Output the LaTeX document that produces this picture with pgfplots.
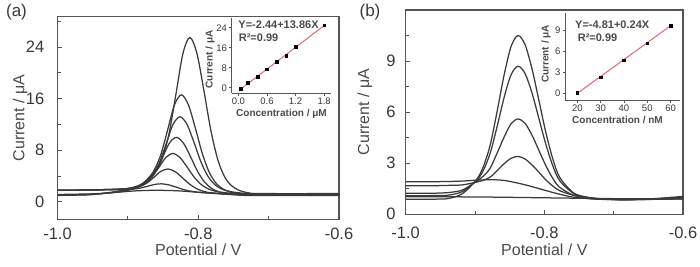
\documentclass[border=0pt]{standalone}
\usepackage{pgfplots}
\pgfplotsset{compat=1.18}
\usepackage{fontspec}
\setmainfont{Liberation Sans}
\definecolor{tk}{HTML}{383838}
\definecolor{lb}{HTML}{4A4A4A}
\definecolor{ax}{HTML}{555555}
\definecolor{cv}{HTML}{3A3A3A}
\definecolor{fit}{HTML}{E0707C}
\pgfplotsset{
 crv/.style={cv, solid, line width=1.25pt, smooth, mark=none},
 main/.style={scale only axis, anchor=south west,
  axis line style={ax, line width=1.1pt},
  tick style={ax, line width=1pt}, major tick length=4pt, minor tick length=3pt,
  tick align=inside, xtick pos=bottom, ytick pos=left,
  /pgf/number format/assume math mode=true,
  tick label style={font=\fontsize{16.5}{18}\selectfont, text=tk, inner sep=0pt},
  label style={font=\fontsize{16}{18}\selectfont, text=lb},
  xmin=-1, xmax=-0.6, xtick={-1,-0.8,-0.6}, xticklabels={-1.0,-0.8,-0.6},
  minor xtick={-0.9,-0.7},
  xlabel={Potential / V}, ylabel={Current / μA}},
 inset/.style={scale only axis, anchor=south west,
  axis x line*=bottom, axis y line*=left,
  axis line style={ax, line width=1pt},
  tick style={ax, line width=0.8pt}, major tick length=2.5pt, tick align=outside,
  /pgf/number format/assume math mode=true,
  tick label style={font=\fontsize{9.5}{10}\selectfont, text=tk, inner sep=0pt},
  label style={font=\fontsize{10}{11}\bfseries, text=lb},
  xlabel={Concentration / μM}, ylabel={Current / μA}}
}
\begin{document}
\begin{tikzpicture}[x=1pt,y=1pt]
\path[use as bounding box] (0,0) rectangle (700,-266);
% ---------------- panel (a)
\begin{axis}[main, at={(57.5pt,-219.3pt)}, width=281.5pt, height=202.6pt,
  ymin=-2.7, ymax=28.7, ytick={0,8,16,24}, minor ytick={4,12,20,28},
  every x tick label/.append style={anchor=center, yshift=-15pt},
  every y tick label/.append style={anchor=east, xshift=-13pt},
  xlabel style={at={(axis description cs:0.5,-0.152)}, anchor=center},
  ylabel style={at={(axis description cs:-0.133,0.5)}, anchor=center}]
\addplot[crv] coordinates {(-1.0,1.8) (-0.95,1.84) (-0.92,1.9) (-0.892,2.14) (-0.882,2.46) (-0.872,3.13) (-0.862,4.41) (-0.852,6.52) (-0.842,10.31) (-0.832,16.49) (-0.822,22.90) (-0.812,25.49) (-0.802,23.06) (-0.792,17.28) (-0.782,11.03) (-0.772,6.45) (-0.762,3.78) (-0.752,2.44) (-0.742,1.80) (-0.732,1.47) (-0.712,1.20) (-0.65,1.2) (-0.6,1.2)};
\addplot[crv] coordinates {(-1.0,1.05) (-0.96,1.12) (-0.93,1.35) (-0.904,1.70) (-0.894,2.0) (-0.884,2.45) (-0.874,3.34) (-0.864,4.66) (-0.854,7.05) (-0.844,10.94) (-0.834,14.98) (-0.824,16.60) (-0.814,15.05) (-0.804,11.38) (-0.794,7.41) (-0.784,4.50) (-0.774,2.80) (-0.764,1.94) (-0.754,1.52) (-0.744,1.30) (-0.724,1.10) (-0.65,1.08) (-0.6,1.05)};
\addplot[crv] coordinates {(-1.0,1.8) (-0.95,1.84) (-0.93,1.92) (-0.906,2.02) (-0.896,2.16) (-0.886,2.47) (-0.876,3.07) (-0.866,4.08) (-0.856,5.90) (-0.846,8.87) (-0.836,11.97) (-0.826,13.20) (-0.816,12.01) (-0.806,9.21) (-0.796,6.16) (-0.786,3.93) (-0.776,2.63) (-0.766,1.95) (-0.756,1.63) (-0.746,1.46) (-0.726,1.30) (-0.65,1.28) (-0.6,1.3)};
\addplot[crv] coordinates {(-1.0,1.1) (-0.96,1.15) (-0.935,1.3) (-0.911,1.6) (-0.901,1.85) (-0.891,2.12) (-0.881,2.58) (-0.871,3.33) (-0.861,4.66) (-0.851,6.84) (-0.841,9.11) (-0.831,10.00) (-0.821,9.10) (-0.811,7.01) (-0.801,4.73) (-0.791,3.07) (-0.781,2.08) (-0.771,1.57) (-0.761,1.30) (-0.751,1.16) (-0.731,1.00) (-0.65,1.0) (-0.6,1.0)};
\addplot[crv] coordinates {(-1.0,1.8) (-0.96,1.83) (-0.916,1.96) (-0.906,2.01) (-0.896,2.15) (-0.886,2.44) (-0.876,2.94) (-0.866,3.84) (-0.856,5.33) (-0.846,6.89) (-0.836,7.50) (-0.826,6.88) (-0.816,5.43) (-0.806,3.86) (-0.796,2.71) (-0.786,2.02) (-0.776,1.66) (-0.766,1.48) (-0.756,1.37) (-0.736,1.25) (-0.65,1.22) (-0.6,1.22)};
\addplot[crv] coordinates {(-1.0,1.0) (-0.96,1.08) (-0.945,1.2) (-0.923,1.5) (-0.913,1.7) (-0.903,1.85) (-0.893,2.05) (-0.883,2.36) (-0.873,2.91) (-0.863,3.81) (-0.853,4.74) (-0.843,5.10) (-0.833,4.70) (-0.823,3.79) (-0.813,2.81) (-0.803,2.09) (-0.793,1.65) (-0.783,1.42) (-0.773,1.29) (-0.763,1.21) (-0.743,1.10) (-0.65,1.1) (-0.6,1.1)};
\addplot[crv] coordinates {(-1.0,1.8) (-0.96,1.84) (-0.932,1.91) (-0.922,1.89) (-0.912,1.89) (-0.902,1.91) (-0.892,1.98) (-0.882,2.15) (-0.872,2.42) (-0.862,2.71) (-0.852,2.80) (-0.842,2.64) (-0.832,2.31) (-0.822,1.95) (-0.812,1.68) (-0.802,1.51) (-0.792,1.41) (-0.782,1.34) (-0.772,1.29) (-0.752,1.20) (-0.65,1.18) (-0.6,1.18)};
\addplot[crv] coordinates {(-1.0,1.15) (-0.95,1.25) (-0.92,1.45) (-0.89,1.7) (-0.86,1.8) (-0.83,1.72) (-0.8,1.5) (-0.77,1.33) (-0.74,1.22) (-0.7,1.15) (-0.6,1.1)};
\end{axis}
% inset (a)
\begin{axis}[inset, at={(231.7pt,-93.3pt)}, width=99.6pt, height=75.5pt,
  xmin=-0.14, xmax=1.95, ymin=-2.2, ymax=28,
  xtick={0,0.6,1.2,1.8}, xticklabels={0.0,0.6,1.2,1.8}, ytick={0,8,16,24},
  every x tick label/.append style={anchor=center, yshift=-5pt},
  every y tick label/.append style={anchor=east, xshift=-2pt},
  xlabel style={at={(axis description cs:0.5,-0.27)}, anchor=center},
  ylabel style={at={(axis description cs:-0.218,0.45)}, anchor=center}]
\addplot[fit, line width=1.1pt] coordinates {(0.05,-0.5) (1.8,24.9)};
\addplot[only marks, mark=square*, mark size=1.3pt, black] coordinates {(0.05,-0.25) (0.2,2.1) (0.4,4.5) (0.6,7.5) (0.8,10.5) (1.0,12.9) (1.2,16.4) (1.8,25.1)};
\node[anchor=west, font=\fontsize{11}{12}\bfseries, text=lb, inner sep=0pt] at (rel axis cs:0.066,0.905) {Y=-2.44+13.86X};
\node[anchor=west, font=\fontsize{11}{12}\bfseries, text=lb, inner sep=0pt] at (rel axis cs:0.07,0.732) {R²=0.99};
\end{axis}
\node[font=\fontsize{17}{18}\selectfont, text=tk] at (16.5,-12.5) {(a)};
% ---------------- panel (b)
\begin{axis}[main, at={(405.7pt,-214.3pt)}, width=277.3pt, height=204.3pt,
  ymin=0, ymax=12, ytick={0,3,6,9}, minor ytick={1.5,4.5,7.5,10.5},
  every x tick label/.append style={anchor=center, yshift=-19pt},
  every y tick label/.append style={anchor=east, xshift=-10pt},
  xlabel style={at={(axis description cs:0.5,-0.175)}, anchor=center},
  ylabel style={at={(axis description cs:-0.147,0.5)}, anchor=center}]
\addplot[crv] coordinates {(-1.0,0.88) (-0.96,0.89) (-0.938,0.93) (-0.918,1.22) (-0.898,2.03) (-0.888,2.80) (-0.878,4.09) (-0.868,6.07) (-0.858,8.19) (-0.848,9.86) (-0.838,10.50) (-0.828,9.98) (-0.818,8.58) (-0.808,6.72) (-0.798,4.83) (-0.788,3.28) (-0.778,2.18) (-0.758,1.26) (-0.738,1.00) (-0.718,0.91) (-0.69,0.86) (-0.65,0.88) (-0.6,1.0)};
\addplot[crv] coordinates {(-1.0,1.09) (-0.96,1.1) (-0.938,1.13) (-0.918,1.34) (-0.898,1.98) (-0.888,2.58) (-0.878,3.61) (-0.868,5.18) (-0.858,6.87) (-0.848,8.20) (-0.838,8.70) (-0.828,8.28) (-0.818,7.15) (-0.808,5.65) (-0.798,4.13) (-0.788,2.87) (-0.778,1.98) (-0.758,1.23) (-0.738,0.99) (-0.718,0.90) (-0.69,0.87) (-0.65,0.9) (-0.6,0.95)};
\addplot[crv] coordinates {(-1.0,1.23) (-0.96,1.24) (-0.938,1.28) (-0.918,1.43) (-0.898,1.94) (-0.888,2.24) (-0.878,2.72) (-0.868,3.61) (-0.858,4.54) (-0.848,5.32) (-0.838,5.60) (-0.828,5.35) (-0.818,4.66) (-0.808,3.77) (-0.798,2.87) (-0.788,2.12) (-0.778,1.59) (-0.758,1.12) (-0.738,0.96) (-0.718,0.89) (-0.69,0.86) (-0.65,0.9) (-0.6,1.05)};
\addplot[crv] coordinates {(-1.0,1.68) (-0.96,1.68) (-0.938,1.70) (-0.918,1.73) (-0.898,1.89) (-0.888,2.00) (-0.878,2.19) (-0.868,2.57) (-0.858,2.97) (-0.848,3.29) (-0.838,3.40) (-0.828,3.25) (-0.818,2.91) (-0.808,2.48) (-0.798,2.03) (-0.788,1.67) (-0.778,1.39) (-0.758,1.12) (-0.738,0.99) (-0.718,0.91) (-0.69,0.87) (-0.65,0.88) (-0.6,0.92)};
\addplot[crv] coordinates {(-1.0,1.91) (-0.95,1.92) (-0.92,1.95) (-0.9,2.0) (-0.88,2.03) (-0.86,2.0) (-0.84,1.85) (-0.82,1.65) (-0.80,1.42) (-0.78,1.2) (-0.76,1.02) (-0.74,0.93) (-0.72,0.88) (-0.68,0.86) (-0.64,0.88) (-0.6,0.92)};
\addplot[crv] coordinates {(-1.0,1.03) (-0.9,1.02) (-0.8,0.97) (-0.7,0.92) (-0.6,0.9)};
\end{axis}
% inset (b)
\begin{axis}[inset, at={(565pt,-100pt)}, width=114.9pt, height=86.9pt,
  xmin=14.7, xmax=64, ymin=-0.95, ymax=11.4,
  xtick={20,30,40,50,60}, ytick={0,3,6,9},
  xlabel={Concentration / nM},
  every x tick label/.append style={anchor=center, yshift=-5.5pt},
  every y tick label/.append style={anchor=east, xshift=-2pt},
  xlabel style={at={(axis description cs:0.457,-0.225)}, anchor=center},
  ylabel style={at={(axis description cs:-0.165,0.53)}, anchor=center}]
\addplot[fit, line width=1.1pt] coordinates {(20,0.0) (60,9.6)};
\addplot[only marks, mark=square*, mark size=1.3pt, black] coordinates {(20,0.09) (30,2.27) (40,4.73) (50,7.1) (60,9.6)};
\node[anchor=west, font=\fontsize{11}{12}\bfseries, text=lb, inner sep=0pt] at (rel axis cs:0.087,0.863) {Y=-4.81+0.24X};
\node[anchor=west, font=\fontsize{11}{12}\bfseries, text=lb, inner sep=0pt] at (rel axis cs:0.11,0.717) {R²=0.99};
\end{axis}
\node[font=\fontsize{17}{18}\selectfont, text=tk] at (370,-12.5) {(b)};
\end{tikzpicture}
\end{document}
